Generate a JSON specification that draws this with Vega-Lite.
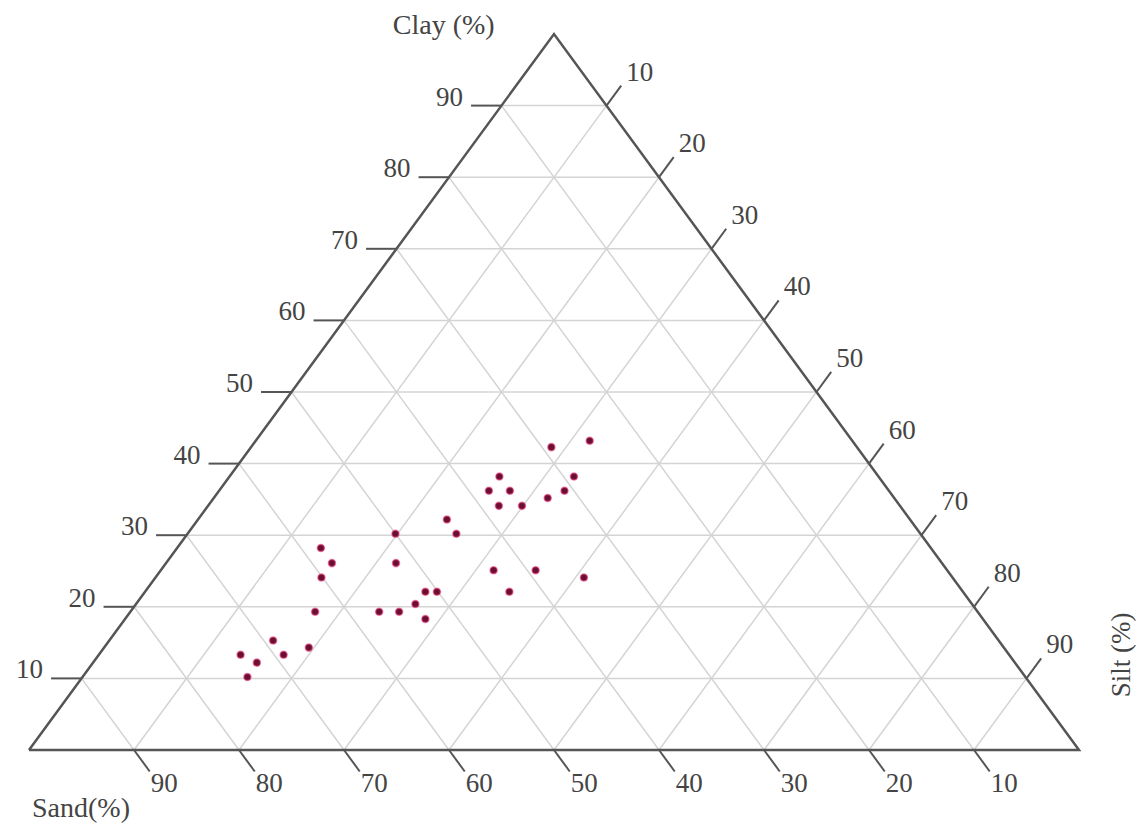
{
  "$schema": "https://vega.github.io/schema/vega-lite/v6.json",
  "width": 1141,
  "height": 826,
  "autosize": "none",
  "padding": 0,
  "background": "white",
  "config": {"view": {"stroke": null}},
  "datasets": {
    "points": [
      {"sand": 25.0, "silt": 31.8, "clay": 43.2},
      {"sand": 29.1, "silt": 28.6, "clay": 42.3},
      {"sand": 36.1, "silt": 25.7, "clay": 38.2},
      {"sand": 29.0, "silt": 32.8, "clay": 38.2},
      {"sand": 38.1, "silt": 25.7, "clay": 36.2},
      {"sand": 36.1, "silt": 27.7, "clay": 36.2},
      {"sand": 30.9, "silt": 32.9, "clay": 36.2},
      {"sand": 33.0, "silt": 31.8, "clay": 35.2},
      {"sand": 38.2, "silt": 27.7, "clay": 34.1},
      {"sand": 36.0, "silt": 29.9, "clay": 34.1},
      {"sand": 44.1, "silt": 23.7, "clay": 32.2},
      {"sand": 44.2, "silt": 25.6, "clay": 30.2},
      {"sand": 50.0, "silt": 19.8, "clay": 30.2},
      {"sand": 58.1, "silt": 13.7, "clay": 28.2},
      {"sand": 58.1, "silt": 15.8, "clay": 26.1},
      {"sand": 52.0, "silt": 21.9, "clay": 26.1},
      {"sand": 60.1, "silt": 15.8, "clay": 24.1},
      {"sand": 43.2, "silt": 31.7, "clay": 25.1},
      {"sand": 39.2, "silt": 35.7, "clay": 25.1},
      {"sand": 35.1, "silt": 40.8, "clay": 24.1},
      {"sand": 51.2, "silt": 26.7, "clay": 22.1},
      {"sand": 50.1, "silt": 27.8, "clay": 22.1},
      {"sand": 43.2, "silt": 34.7, "clay": 22.1},
      {"sand": 53.0, "silt": 26.6, "clay": 20.4},
      {"sand": 57.0, "silt": 23.7, "clay": 19.3},
      {"sand": 55.1, "silt": 25.6, "clay": 19.3},
      {"sand": 63.1, "silt": 17.6, "clay": 19.3},
      {"sand": 53.1, "silt": 28.6, "clay": 18.3},
      {"sand": 69.1, "silt": 15.6, "clay": 15.3},
      {"sand": 66.2, "silt": 19.5, "clay": 14.3},
      {"sand": 73.2, "silt": 13.5, "clay": 13.3},
      {"sand": 69.1, "silt": 17.6, "clay": 13.3},
      {"sand": 72.2, "silt": 15.6, "clay": 12.2},
      {"sand": 74.1, "silt": 15.7, "clay": 10.2}
    ],
    "levels": [
      {"comp": "clay", "v": 10}, {"comp": "clay", "v": 20}, {"comp": "clay", "v": 30},
      {"comp": "clay", "v": 40}, {"comp": "clay", "v": 50}, {"comp": "clay", "v": 60},
      {"comp": "clay", "v": 70}, {"comp": "clay", "v": 80}, {"comp": "clay", "v": 90},
      {"comp": "silt", "v": 10}, {"comp": "silt", "v": 20}, {"comp": "silt", "v": 30},
      {"comp": "silt", "v": 40}, {"comp": "silt", "v": 50}, {"comp": "silt", "v": 60},
      {"comp": "silt", "v": 70}, {"comp": "silt", "v": 80}, {"comp": "silt", "v": 90},
      {"comp": "sand", "v": 10}, {"comp": "sand", "v": 20}, {"comp": "sand", "v": 30},
      {"comp": "sand", "v": 40}, {"comp": "sand", "v": 50}, {"comp": "sand", "v": 60},
      {"comp": "sand", "v": 70}, {"comp": "sand", "v": 80}, {"comp": "sand", "v": 90}
    ],
    "vertices": [
      {"i": 0, "sand": 100, "silt": 0, "clay": 0},
      {"i": 1, "sand": 0, "silt": 100, "clay": 0},
      {"i": 2, "sand": 0, "silt": 0, "clay": 100},
      {"i": 3, "sand": 100, "silt": 0, "clay": 0}
    ],
    "titles": [
      {"label": "Clay (%)", "tx": 39.5, "ty": 101.1, "rot": 0},
      {"label": "Sand(%)", "tx": 4.95, "ty": -8.24, "rot": 0}
    ]
  },
  "layer": [
    {
      "data": {"name": "levels"},
      "transform": [
        {"calculate": "datum.comp == 'clay' ? datum.v / 2 : datum.comp == 'silt' ? datum.v : 100 - datum.v", "as": "x1"},
        {"calculate": "datum.comp == 'clay' ? datum.v : 0", "as": "y1"},
        {"calculate": "datum.comp == 'clay' ? 100 - datum.v / 2 : datum.comp == 'silt' ? 50 + datum.v / 2 : (100 - datum.v) / 2", "as": "x2"},
        {"calculate": "datum.comp == 'clay' ? datum.v : 100 - datum.v", "as": "y2"}
      ],
      "mark": {"type": "rule", "stroke": "#d4d4d4", "strokeWidth": 1.5},
      "encoding": {
        "x": {"field": "x1", "type": "quantitative", "scale": {"domain": [-2.762, 105.905], "nice": false, "zero": false}, "axis": null},
        "y": {"field": "y1", "type": "quantitative", "scale": {"domain": [-10.615, 104.749], "nice": false, "zero": false}, "axis": null},
        "x2": {"field": "x2"},
        "y2": {"field": "y2"}
      }
    },
    {
      "data": {"name": "vertices"},
      "transform": [
        {"calculate": "datum.silt + datum.clay / 2", "as": "x"},
        {"calculate": "datum.clay", "as": "y"}
      ],
      "mark": {"type": "line", "stroke": "#555555", "strokeWidth": 2.5, "strokeJoin": "miter"},
      "encoding": {
        "x": {"field": "x", "type": "quantitative"},
        "y": {"field": "y", "type": "quantitative"},
        "order": {"field": "i", "type": "quantitative"}
      }
    },
    {
      "data": {"name": "levels"},
      "transform": [
        {"calculate": "datum.comp == 'clay' ? datum.v / 2 : datum.comp == 'silt' ? 50 + datum.v / 2 : 100 - datum.v", "as": "tx1"},
        {"calculate": "datum.comp == 'clay' ? datum.v : datum.comp == 'silt' ? 100 - datum.v : 0", "as": "ty1"},
        {"calculate": "datum.comp == 'clay' ? datum.v / 2 - 2.9 : datum.comp == 'silt' ? 50 + datum.v / 2 + 1.4 : 100 - datum.v + 1.5", "as": "tx2"},
        {"calculate": "datum.comp == 'clay' ? datum.v : datum.comp == 'silt' ? 100 - datum.v + 2.8 : -3", "as": "ty2"}
      ],
      "layer": [
        {
          "mark": {"type": "rule", "stroke": "#555555", "strokeWidth": 2},
          "encoding": {
            "x": {"field": "tx1", "type": "quantitative"},
            "y": {"field": "ty1", "type": "quantitative"},
            "x2": {"field": "tx2"},
            "y2": {"field": "ty2"}
          }
        },
        {
          "transform": [{"filter": "datum.comp == 'clay'"}],
          "mark": {"type": "text", "align": "right", "baseline": "alphabetic", "dx": -8, "dy": 0, "font": "Liberation Serif", "fontSize": 27, "fill": "#444444"},
          "encoding": {
            "x": {"field": "tx2", "type": "quantitative"},
            "y": {"field": "ty2", "type": "quantitative"},
            "text": {"field": "v", "type": "nominal"}
          }
        },
        {
          "transform": [{"filter": "datum.comp == 'silt'"}],
          "mark": {"type": "text", "align": "left", "baseline": "alphabetic", "dx": 5, "dy": -5, "font": "Liberation Serif", "fontSize": 27, "fill": "#444444"},
          "encoding": {
            "x": {"field": "tx2", "type": "quantitative"},
            "y": {"field": "ty2", "type": "quantitative"},
            "text": {"field": "v", "type": "nominal"}
          }
        },
        {
          "transform": [{"filter": "datum.comp == 'sand'"}],
          "mark": {"type": "text", "align": "left", "baseline": "top", "dx": 1, "dy": 0, "font": "Liberation Serif", "fontSize": 27, "fill": "#444444"},
          "encoding": {
            "x": {"field": "tx2", "type": "quantitative"},
            "y": {"field": "ty2", "type": "quantitative"},
            "text": {"field": "v", "type": "nominal"}
          }
        }
      ]
    },
    {
      "data": {"name": "titles"},
      "mark": {"type": "text", "align": "center", "baseline": "middle", "font": "Liberation Serif", "fontSize": 28, "fill": "#444444"},
      "encoding": {
        "x": {"field": "tx", "type": "quantitative"},
        "y": {"field": "ty", "type": "quantitative"},
        "text": {"field": "label", "type": "nominal"}
      }
    },
    {
      "data": {"values": [{"label": "Silt (%)", "tx": 104.1, "ty": 13.27}]},
      "mark": {"type": "text", "align": "center", "baseline": "middle", "angle": 270, "font": "Liberation Serif", "fontSize": 27, "fill": "#444444"},
      "encoding": {
        "x": {"field": "tx", "type": "quantitative"},
        "y": {"field": "ty", "type": "quantitative"},
        "text": {"field": "label", "type": "nominal"}
      }
    },
    {
      "data": {"name": "points"},
      "transform": [
        {"calculate": "datum.silt + datum.clay / 2", "as": "x"},
        {"calculate": "datum.clay", "as": "y"}
      ],
      "mark": {"type": "circle", "size": 50, "fill": "#6a0f33", "fillOpacity": 1, "stroke": "#e8407a", "strokeWidth": 1.5, "strokeOpacity": 0.6},
      "encoding": {
        "x": {"field": "x", "type": "quantitative"},
        "y": {"field": "y", "type": "quantitative"}
      }
    }
  ]
}
